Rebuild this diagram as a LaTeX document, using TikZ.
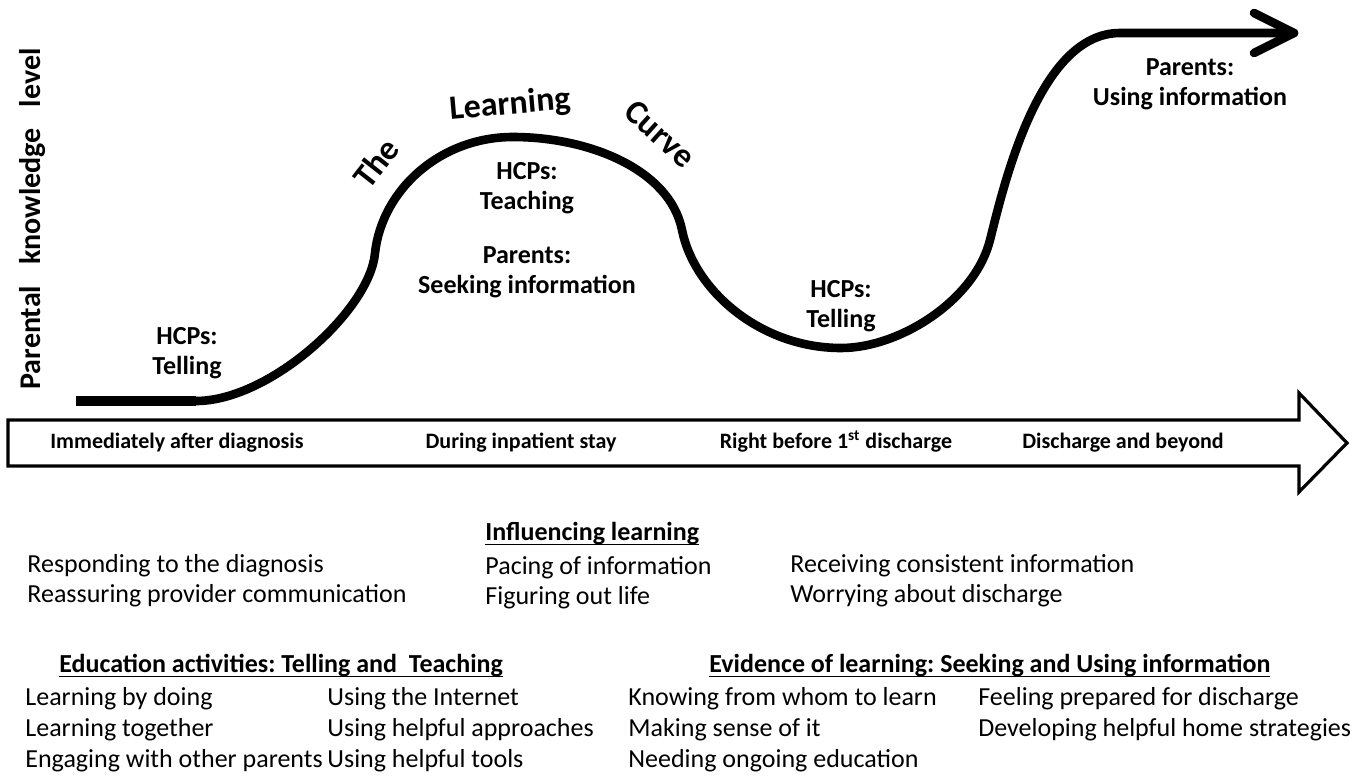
\documentclass[tikz,border=0pt]{standalone}
\usepackage{fontspec}
\setmainfont{Carlito}
\usetikzlibrary{positioning}
\frenchspacing

\newcommand{\undl}[1]{{\setbox0\hbox{#1}\rlap{\rule[-2.6pt]{\wd0}{0.9pt}}\box0}}

\tikzset{
  curve/.style={line width=4.3pt, line cap=round, line join=round},
  lbl/.style={font=\bfseries\fontsize{13}{15}\selectfont, align=center, inner sep=0pt},
  title/.style={font=\bfseries\fontsize{17}{20}\selectfont, inner sep=0pt},
  stage/.style={font=\bfseries\fontsize{11}{13}\selectfont, inner sep=0pt, text height=1.5ex, text depth=0.4ex},
  item/.style={font=\fontsize{13}{15}\selectfont, anchor=west, inner sep=0pt, text height=1.6ex, text depth=0.5ex},
  head/.style={item, font=\bfseries\fontsize{13}{15}\selectfont}
}

\begin{document}
\begin{tikzpicture}[x=0.5pt, y=-0.5pt]
  \useasboundingbox (0,0) rectangle (1362,777);

  % the curve
  \coordinate (c0) at (76,401);
  \coordinate (c1) at (196,401);
  \coordinate (c2) at (375,253);
  \coordinate (c3) at (513,137);
  \coordinate (c4) at (682,230);
  \coordinate (c5) at (841,348);
  \coordinate (c6) at (990,240);
  \coordinate (c7) at (1120,33);
  \coordinate (c8) at (1294,33);
  \draw[line width=5pt] (c0) -- (c1);
  \draw[curve] (c1) .. controls (270,401) and (370,310) .. (c2)
    .. controls (382,190) and (440,137) .. (c3)
    .. controls (590,137) and (670,170) .. (c4)
    .. controls (694,290) and (760,348) .. (c5)
    .. controls (900,348) and (975,300) .. (c6)
    .. controls (1005,180) and (1040,33) .. (c7) -- (c8);
  \draw[curve] (1254,13) -- (c8) -- (1254,53);

  \node[title, rotate=52] (The) at (376,163) {The};
  \node[title, rotate=5] (Learning) at (510,105) {Learning};
  \node[title, rotate=-42] (Curve) at (660,134) {Curve};

  \node[font=\bfseries\fontsize{15}{18}\selectfont, rotate=90, inner sep=0pt] (ylabel) at (33,219)
    {Parental\hspace{0.7em}knowledge\hspace{0.7em}level};

  \node[lbl] (tell1) at (187,353) {HCPs:\\Telling};
  \node[lbl] (teach) at (527,188) {HCPs:\\Teaching};
  \node[lbl] (seek) at (527,272) {Parents:\\Seeking information};
  \node[lbl] (tell2) at (841,306) {HCPs:\\Telling};
  \node[lbl] (use) at (1190,84) {Parents:\\Using information};

  % time line
  \draw[line width=1.6pt, line join=miter] (8,420) -- (1299,420) -- (1299,393) -- (1347,443)
    -- (1299,492) -- (1299,466) -- (8,466) -- cycle;
  \node[stage] (s1) at (177,443) {Immediately after diagnosis};
  \node[stage] (s2) at (521,443) {During inpatient stay};
  \node[stage] (s3) at (836,443) {Right before 1\textsuperscript{st} discharge};
  \node[stage] (s4) at (1123,443) {Discharge and beyond};

  % influencing learning
  \node[head] (inf) at (485,535) {\undl{Influencing learning}};
  \node[item] (inf1) at (27,567) {Responding to the diagnosis};
  \node[item] (inf2) at (27,597) {Reassuring provider communication};
  \node[item] (inf3) at (485,569) {Pacing of information};
  \node[item] (inf4) at (485,599) {Figuring out life};
  \node[item] (inf5) at (790,567) {Receiving consistent information};
  \node[item] (inf6) at (790,597) {Worrying about discharge};

  % education activities
  \node[head] (edu) at (59,667) {\undl{Education activities: Telling and\ \ Teaching}};
  \node[item] (edu1) at (25,700) {Learning by doing};
  \node[item] (edu2) at (25,731) {Learning together};
  \node[item] (edu3) at (25,762) {Engaging with other parents};
  \node[item] (edu4) at (327,700) {Using the Internet};
  \node[item] (edu5) at (327,731) {Using helpful approaches};
  \node[item] (edu6) at (327,762) {Using helpful tools};

  % evidence of learning
  \node[head] (evi) at (709,667) {\undl{Evidence of learning: Seeking and Using information}};
  \node[item] (evi1) at (628,700) {Knowing from whom to learn};
  \node[item] (evi2) at (628,731) {Making sense of it};
  \node[item] (evi3) at (628,762) {Needing ongoing education};
  \node[item] (evi4) at (978,700) {Feeling prepared for discharge};
  \node[item] (evi5) at (978,731) {Developing helpful home strategies};
\end{tikzpicture}
\end{document}
